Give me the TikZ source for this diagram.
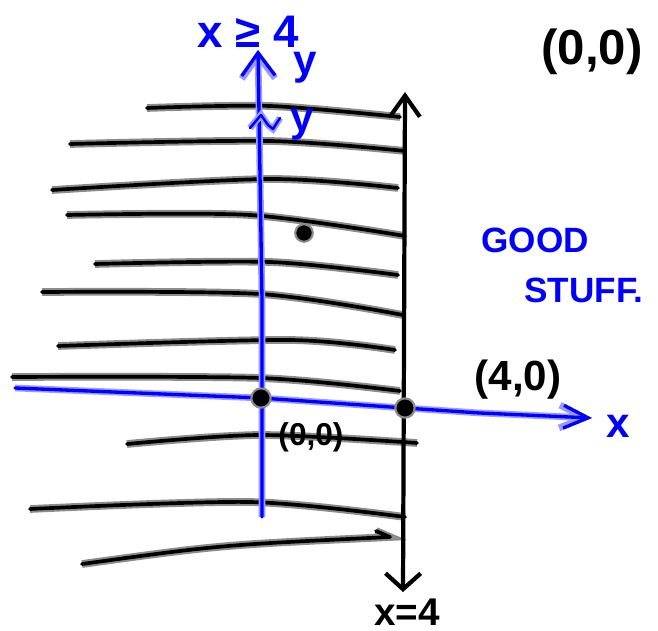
\documentclass[tikz,border=0pt]{standalone}
\usepackage{fontspec}
\setmainfont{Liberation Sans}
\usetikzlibrary{arrows.meta}

\begin{document}
\begin{tikzpicture}[
  x=0.02cm, y=-0.02cm,
  ink/.style={draw=black, line width=2.1pt, line cap=round, line join=round, preaction={draw=black!45, line width=4.4pt}},
  blueink/.style={draw=blue, line width=1.9pt, line cap=round, line join=round, preaction={draw=blue!40, line width=3.8pt}},
  axisline/.style={draw=black, line width=2.4pt, line cap=round, line join=round},
  dot/.style={circle, fill=black, draw=black!45, line width=1.2pt, inner sep=0pt, minimum size=11pt},
  note/.style={inner sep=0pt, font=\bfseries\fontsize{20}{20}\selectfont},
  bluenote/.style={note, text=blue}
]
  \useasboundingbox (0,0) rectangle (658,631);

  \foreach \xa/\ya/\xm/\ym/\xb/\yb in {
      147/108/270/106/400/117, 70/144/270/141/405/151, 52/190/270/179/398/188,
      67/215/250/215/405/236, 95/264/270/262/398/275, 42/292/260/294/403/315,
      58/346/290/340/395/350, 12/377/260/378/400/391, 127/444/260/435/417/443,
      30/509/250/502/405/517}
    \draw[ink] plot[smooth] coordinates {(\xa,\ya) (\xm,\ym) (\xb,\yb)};
  \draw[ink] (82,564) .. controls (220,545) .. (390,537) -- (376,531);

  \coordinate (vtop) at (405,92);
  \coordinate (vbot) at (403,592);
  \coordinate (ytop) at (258,50);
  \coordinate (ybot) at (262,517);
  \coordinate (xleft) at (15,388);
  \coordinate (xright) at (592,418);
  \coordinate (orig) at (261,398);
  \coordinate (foot) at (405,408);

  \draw[axisline, {Straight Barb[length=12pt, width=17pt]}-{Straight Barb[length=9pt, width=20pt]}] (vtop) -- (vbot);
  \draw[blueink, -{Straight Barb[length=13pt, width=19pt]}] (ybot) -- (262,300) -- (ytop);
  \draw[blueink, -{Straight Barb[length=14pt, width=13pt]}] (xleft) -- (orig) -- (foot) -- (480,413) -- (xright);
  \draw[blueink, line width=1.4pt] (250,128) -- (261,115) -- (268,125) -- (273,129) -- (280,118);

  \node[dot] (origdot) at (orig) {};
  \node[dot] (footdot) at (foot) {};
  \node[dot, minimum size=10pt] (pt) at (304,233) {};

  \node[bluenote, font=\bfseries\fontsize{26}{26}\selectfont] (cond) at (248,32) {x ≥ 4};
  \node[bluenote, font=\bfseries\fontsize{24}{24}\selectfont] (yname) at (305,68) {y};
  \node[bluenote, font=\bfseries\fontsize{24}{24}\selectfont] (yname2) at (302,125) {y};
  \node[bluenote, font=\bfseries\fontsize{24}{24}\selectfont] (xname) at (618,426) {x};
  \node[bluenote] (good) at (535,240) {GOOD};
  \node[bluenote] (stuff) at (584,290) {STUFF.};

  \node[note, font=\bfseries\fontsize{28}{28}\selectfont] (corner) at (592,52) {(0,0)};
  \node[note, font=\bfseries\fontsize{24}{24}\selectfont] (foottext) at (518,380) {(4,0)};
  \node[note, font=\bfseries\fontsize{18}{18}\selectfont] (origtext) at (311,437) {(0,0)};
  \node[note, font=\bfseries\fontsize{22}{22}\selectfont] (linetext) at (407,612) {x=4};
\end{tikzpicture}
\end{document}
